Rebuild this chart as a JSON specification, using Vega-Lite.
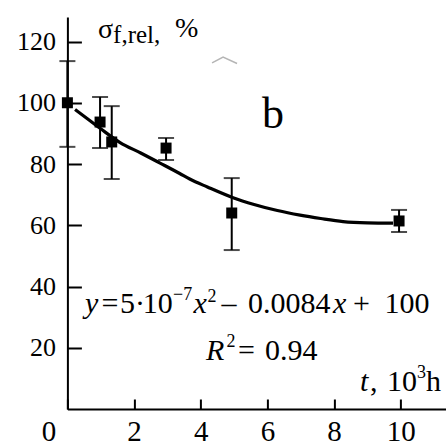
{
  "$schema": "https://vega.github.io/schema/vega-lite/v6.json",
  "width": 379,
  "height": 392,
  "autosize": {"type": "none"},
  "padding": {"left": 67.4, "top": 17, "right": 0, "bottom": 38},
  "background": "white",
  "config": {"view": {"stroke": null}, "font": "Liberation Serif, Times New Roman, serif", "text": {"font": "Liberation Serif, Times New Roman, serif", "color": "black", "align": "left", "baseline": "alphabetic", "fontSize": 30}},
  "data": {"values": [{}]},
  "datasets": {
    "points": [
      {"t": 0, "v": 100, "lo": 85.6, "hi": 113.6},
      {"t": 0.98, "v": 93.7, "lo": 85.2, "hi": 101.9},
      {"t": 1.33, "v": 87.2, "lo": 75.1, "hi": 98.9},
      {"t": 2.96, "v": 85.2, "lo": 81.3, "hi": 88.5},
      {"t": 4.93, "v": 64.0, "lo": 51.9, "hi": 75.4},
      {"t": 9.95, "v": 61.4, "lo": 57.8, "hi": 65.0}
    ],
    "fit": [
      {"t": 0.23, "v": 97.8}, {"t": 0.6, "v": 94.8}, {"t": 1.0, "v": 91.5}, {"t": 1.58, "v": 87.0},
      {"t": 2.2, "v": 83.6}, {"t": 2.78, "v": 80.3}, {"t": 3.37, "v": 76.9}, {"t": 3.67, "v": 75.1},
      {"t": 4.2, "v": 72.5}, {"t": 4.97, "v": 69.0}, {"t": 5.6, "v": 66.8}, {"t": 6.3, "v": 64.8},
      {"t": 6.98, "v": 63.3}, {"t": 7.6, "v": 62.2}, {"t": 8.27, "v": 61.2}, {"t": 9.0, "v": 60.8},
      {"t": 9.77, "v": 60.7}
    ],
    "art": [{"t": 4.34, "v": 113.0}, {"t": 4.67, "v": 114.9}, {"t": 5.09, "v": 112.8}]
  },
  "layer": [
    {
      "data": {"name": "fit"},
      "mark": {"type": "line", "color": "black", "strokeWidth": 3.2, "interpolate": "monotone"},
      "encoding": {
        "x": {"field": "t", "type": "quantitative", "scale": {"domain": [0, 11.37], "nice": false, "zero": false},
          "axis": {"values": [0, 2, 4, 6, 8, 10], "title": null, "grid": false, "domainColor": "black", "domainWidth": 2,
            "tickColor": "black", "tickWidth": 2, "tickSize": -10, "labelFont": "Liberation Serif, Times New Roman, serif", "labelFontSize": 29,
            "labelColor": "black", "labelPadding": 19, "labelFlush": false, "labelOverlap": false,
            "labelOffset": {"condition": {"test": "datum.value === 0", "value": -19}, "value": 0}}},
        "y": {"field": "v", "type": "quantitative", "scale": {"domain": [0, 128], "nice": false, "zero": false},
          "axis": {"values": [20, 40, 60, 80, 100, 120], "title": null, "grid": false, "domainColor": "black", "domainWidth": 2,
            "tickColor": "black", "tickWidth": 2, "tickSize": -14, "labelFont": "Liberation Serif, Times New Roman, serif", "labelFontSize": 26,
            "labelColor": "black", "labelPadding": 26, "labelFlush": false, "labelOverlap": false}}
      }
    },
    {
      "data": {"name": "art"},
      "mark": {"type": "line", "color": "#b5b5b5", "strokeWidth": 1.5},
      "encoding": {"x": {"field": "t", "type": "quantitative"}, "y": {"field": "v", "type": "quantitative"}}
    },
    {
      "data": {"name": "points"},
      "mark": {"type": "rule", "color": "black", "strokeWidth": 2},
      "encoding": {"x": {"field": "t", "type": "quantitative"}, "y": {"field": "lo", "type": "quantitative"}, "y2": {"field": "hi"}}
    },
    {
      "data": {"name": "points"},
      "mark": {"type": "tick", "color": "black", "orient": "horizontal", "size": 16, "thickness": 2},
      "encoding": {"x": {"field": "t", "type": "quantitative"}, "y": {"field": "lo", "type": "quantitative"}}
    },
    {
      "data": {"name": "points"},
      "mark": {"type": "tick", "color": "black", "orient": "horizontal", "size": 16, "thickness": 2},
      "encoding": {"x": {"field": "t", "type": "quantitative"}, "y": {"field": "hi", "type": "quantitative"}}
    },
    {
      "data": {"name": "points"},
      "mark": {"type": "point", "shape": "square", "filled": true, "color": "black", "size": 121, "opacity": 1, "strokeWidth": 0},
      "encoding": {"x": {"field": "t", "type": "quantitative"}, "y": {"field": "v", "type": "quantitative"}}
    },
    {"mark": {"type": "text", "fontSize": 28}, "encoding": {"x": {"datum": 0.92}, "y": {"datum": 121.1}, "text": {"value": "σ"}}},
    {"mark": {"type": "text", "fontSize": 25}, "encoding": {"x": {"datum": 1.37}, "y": {"datum": 119.5}, "text": {"value": "f,rel"}}},
    {"mark": {"type": "text", "fontSize": 25}, "encoding": {"x": {"datum": 2.6}, "y": {"datum": 119.5}, "text": {"value": ","}}},
    {"mark": {"type": "text", "fontSize": 28}, "encoding": {"x": {"datum": 3.23}, "y": {"datum": 121.5}, "text": {"value": "%"}}},
    {"mark": {"type": "text", "fontSize": 44}, "encoding": {"x": {"datum": 5.84}, "y": {"datum": 91.8}, "text": {"value": "b"}}},
    {"mark": {"type": "text", "fontStyle": "italic"}, "encoding": {"x": {"datum": 0.53}, "y": {"datum": 31.3}, "text": {"value": "y"}}},
    {"mark": {"type": "text"}, "encoding": {"x": {"datum": 1.02}, "y": {"datum": 31.3}, "text": {"value": "="}}},
    {"mark": {"type": "text"}, "encoding": {"x": {"datum": 1.58}, "y": {"datum": 31.3}, "text": {"value": "5·"}}},
    {"mark": {"type": "text"}, "encoding": {"x": {"datum": 2.26}, "y": {"datum": 31.3}, "text": {"value": "10"}}},
    {"mark": {"type": "text", "fontSize": 18}, "encoding": {"x": {"datum": 3.17}, "y": {"datum": 35.6}, "text": {"value": "−7"}}},
    {"mark": {"type": "text", "fontStyle": "italic"}, "encoding": {"x": {"datum": 3.78}, "y": {"datum": 31.3}, "text": {"value": "x"}}},
    {"mark": {"type": "text", "fontSize": 18}, "encoding": {"x": {"datum": 4.2}, "y": {"datum": 34.9}, "text": {"value": "2"}}},
    {"mark": {"type": "text"}, "encoding": {"x": {"datum": 4.62}, "y": {"datum": 31.3}, "text": {"value": "–"}}},
    {"mark": {"type": "text"}, "encoding": {"x": {"datum": 5.42}, "y": {"datum": 31.3}, "text": {"value": "0.0084"}}},
    {"mark": {"type": "text", "fontStyle": "italic"}, "encoding": {"x": {"datum": 7.97}, "y": {"datum": 31.3}, "text": {"value": "x"}}},
    {"mark": {"type": "text"}, "encoding": {"x": {"datum": 8.57}, "y": {"datum": 31.3}, "text": {"value": "+"}}},
    {"mark": {"type": "text"}, "encoding": {"x": {"datum": 9.51}, "y": {"datum": 31.3}, "text": {"value": "100"}}},
    {"mark": {"type": "text", "fontStyle": "italic"}, "encoding": {"x": {"datum": 4.16}, "y": {"datum": 16.0}, "text": {"value": "R"}}},
    {"mark": {"type": "text", "fontSize": 18}, "encoding": {"x": {"datum": 4.77}, "y": {"datum": 20.2}, "text": {"value": "2"}}},
    {"mark": {"type": "text"}, "encoding": {"x": {"datum": 5.12}, "y": {"datum": 16.0}, "text": {"value": "="}}},
    {"mark": {"type": "text"}, "encoding": {"x": {"datum": 5.93}, "y": {"datum": 16.0}, "text": {"value": "0.94"}}},
    {"mark": {"type": "text", "fontStyle": "italic"}, "encoding": {"x": {"datum": 8.78}, "y": {"datum": 5.9}, "text": {"value": "t"}}},
    {"mark": {"type": "text"}, "encoding": {"x": {"datum": 9.08}, "y": {"datum": 5.9}, "text": {"value": ","}}},
    {"mark": {"type": "text"}, "encoding": {"x": {"datum": 9.59}, "y": {"datum": 5.9}, "text": {"value": "10"}}},
    {"mark": {"type": "text", "fontSize": 18}, "encoding": {"x": {"datum": 10.49}, "y": {"datum": 10.1}, "text": {"value": "3"}}},
    {"mark": {"type": "text"}, "encoding": {"x": {"datum": 10.76}, "y": {"datum": 5.9}, "text": {"value": "h"}}}
  ]
}
